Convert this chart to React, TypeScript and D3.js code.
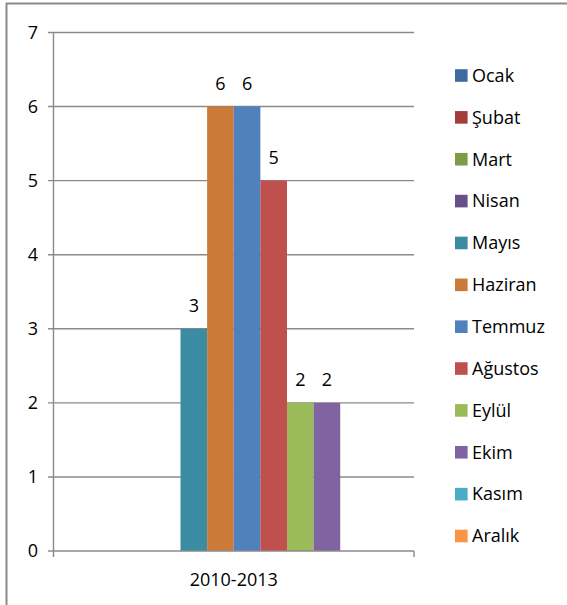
import * as d3 from "d3";

const categories = ["2010-2013"];
const months = ["Ocak", "Şubat", "Mart", "Nisan", "Mayıs", "Haziran", "Temmuz", "Ağustos", "Eylül", "Ekim", "Kasım", "Aralık"];
const values: (number | null)[] = [null, null, null, null, 3, 6, 6, 5, 2, 2, null, null];
const colors = ["#3F6A9F", "#A13E3B", "#7F9B48", "#684F88", "#3B8BA3", "#CC7A37", "#4F81BD", "#C0504D", "#9BBB59", "#8064A2", "#4BACC6", "#F79646"];
const yTicks = [0, 1, 2, 3, 4, 5, 6, 7];

const font = "'Open Sans', 'Noto Sans', sans-serif";
const grid = "#8a8a8a";

const App = () => {
  const W = 567, H = 605;
  const plot = { left: 53.5, right: 414, top: 32.5, bottom: 551 };

  const x0 = d3.scaleBand<string>().domain(categories).range([plot.left, plot.right]);
  const bw = x0.bandwidth();
  const x1 = d3.scaleBand<string>().domain(months)
    .range([bw * 0.057, bw * (1 - 0.057)]);
  const y = d3.scaleLinear().domain([0, 7]).range([plot.bottom, plot.top]);

  const legendY = d3.scaleLinear().domain([0, months.length - 1]).range([75.5, 536]);

  return (
    <svg width={W} height={H} style={{ position: "absolute", left: 0, top: 0, background: "#fff" }}
      fontFamily={font}>
      <rect x={6.5} y={3.5} width={600} height={700} fill="#fff" stroke={grid} strokeWidth={2} />

      {/* gridlines + y labels */}
      {yTicks.map(t => (
        <g key={t}>
          {t > 0 && <line x1={48} x2={plot.right} y1={y(t)} y2={y(t)} stroke={grid} strokeWidth={1.4} />}
          {t === 0 && <line x1={48} x2={plot.left} y1={y(t)} y2={y(t)} stroke={grid} strokeWidth={1.4} />}
          <text x={38} y={y(t)} dy="0.35em" textAnchor="end" fontSize={18} fill="#000">{t}</text>
        </g>
      ))}

      {/* bars */}
      {categories.map(c => (
        <g key={c} transform={`translate(${x0(c)},0)`}>
          {months.map((m, i) => {
            const v = values[i];
            if (v == null) return null;
            return (
              <g key={m}>
                <rect x={x1(m)} y={y(v)} width={x1.bandwidth()} height={y(0) - y(v)} fill={colors[i]} />
                <text x={(x1(m) ?? 0) + x1.bandwidth() / 2} y={y(v) - 16.5} textAnchor="middle"
                  fontSize={18} fill="#000">{v}</text>
              </g>
            );
          })}
        </g>
      ))}

      {/* axes */}
      <line x1={plot.left} x2={plot.left} y1={plot.top} y2={plot.bottom + 6} stroke={grid} strokeWidth={1.4} />
      <line x1={plot.left} x2={plot.right} y1={plot.bottom} y2={plot.bottom} stroke={grid} strokeWidth={1.6} />
      <line x1={plot.right} x2={plot.right} y1={plot.bottom} y2={plot.bottom + 6} stroke={grid} strokeWidth={1.4} />
      {categories.map(c => (
        <text key={c} x={(x0(c) ?? 0) + bw / 2} y={580} dy="0.35em" textAnchor="middle" fontSize={18} fill="#000">{c}</text>
      ))}

      {/* legend */}
      {months.map((m, i) => (
        <g key={m} transform={`translate(455,${legendY(i)})`}>
          <rect x={0} y={-6.3} width={12.6} height={12.6} fill={colors[i]} />
          <text x={17} y={0} dy="0.35em" fontSize={18} fill="#000">{m}</text>
        </g>
      ))}
    </svg>
  );
};

export default App;
